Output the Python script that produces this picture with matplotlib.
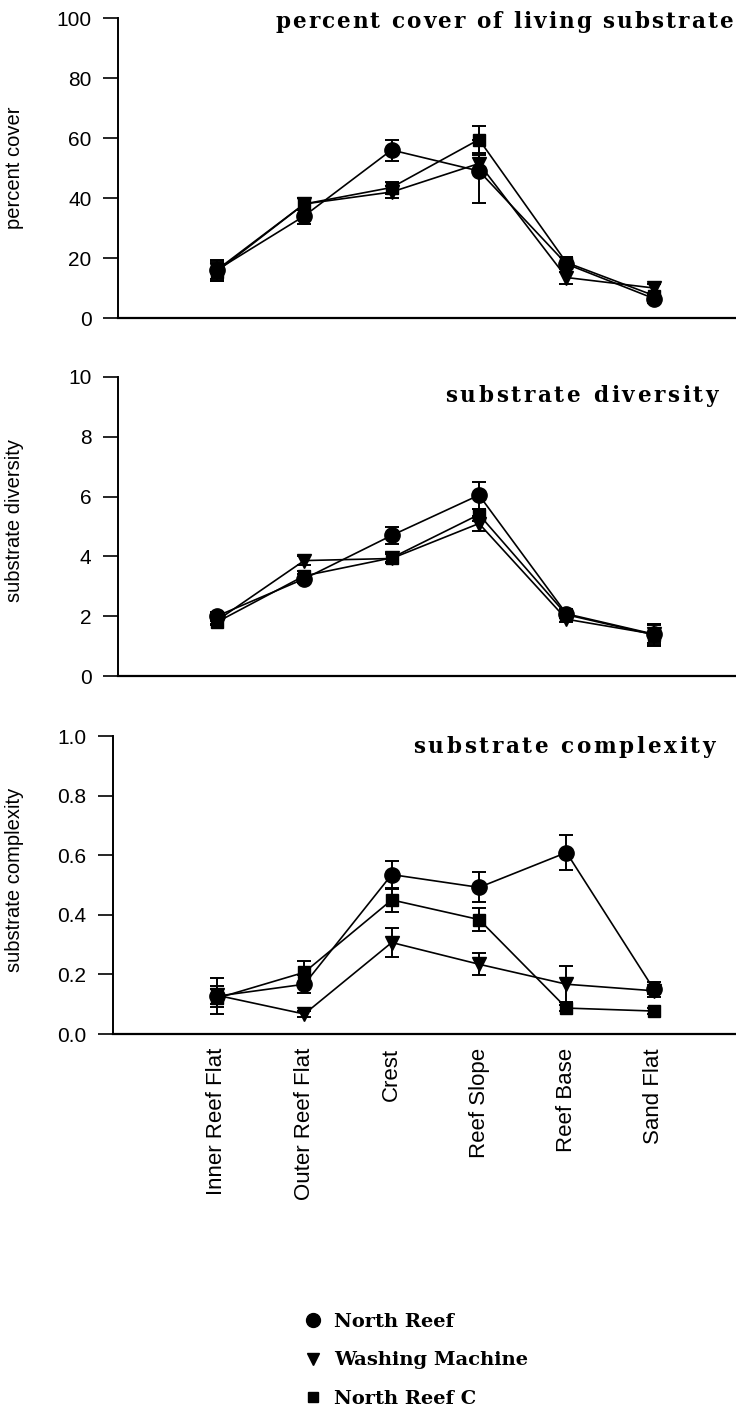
import numpy as np
import matplotlib
matplotlib.use('Agg')
import matplotlib.pyplot as plt
from matplotlib.lines import Line2D
from matplotlib.font_manager import FontProperties, findfont
from matplotlib.ft2font import FT2Font, LoadFlags

# Reef zones along the transect
zones = ['Inner Reef Flat', 'Outer Reef Flat', 'Crest', 'Reef Slope', 'Reef Base', 'Sand Flat']
sites = ['North Reef', 'Washing Machine', 'North Reef C']

# percent cover of living substrate (mean, error)
cover_nr = [16, 34, 56, 49, 18, 6.5]
cover_nr_err = [3.5, 2.5, 3.5, 10.5, 2.5, 1.5]
cover_wm = [16, 38, 42, 51.5, 13.5, 10]
cover_wm_err = [3, 2, 2, 3, 2, 1.5]
cover_nrc = [15.5, 38, 43.5, 59.5, 18.5, 7.5]
cover_nrc_err = [3, 2, 2, 4.5, 2, 1]

# substrate diversity
div_nr = [2.0, 3.25, 4.7, 6.05, 2.08, 1.4]
div_nr_err = [0.15, 0.15, 0.3, 0.45, 0.15, 0.35]
div_wm = [1.85, 3.86, 3.93, 5.1, 1.9, 1.4]
div_wm_err = [0.1, 0.15, 0.15, 0.25, 0.1, 0.3]
div_nrc = [1.8, 3.35, 3.95, 5.4, 2.05, 1.38]
div_nrc_err = [0.1, 0.15, 0.15, 0.2, 0.1, 0.37]

# substrate complexity
cx_nr = [0.127, 0.167, 0.535, 0.492, 0.609, 0.15]
cx_nr_err = [0.06, 0.03, 0.047, 0.05, 0.058, 0.025]
cx_wm = [0.13, 0.067, 0.307, 0.234, 0.167, 0.145]
cx_wm_err = [0.03, 0.01, 0.048, 0.037, 0.06, 0.01]
cx_nrc = [0.12, 0.207, 0.45, 0.384, 0.087, 0.077]
cx_nrc_err = [0.03, 0.037, 0.04, 0.038, 0.01, 0.01]

markers = ['o', 'v', 's']
msizes = [11, 10, 8.5]

sans = 'Liberation Sans'
serif = 'DejaVu Serif'

fig = plt.figure(figsize=(7.36, 14.16), dpi=100)
W, H = 736.0, 1416.0


def make_axes(left_px, top_px, bottom_px):
    return fig.add_axes([left_px / W, 1 - bottom_px / H, 1 - left_px / W, (bottom_px - top_px) / H])


def spaced_title(s, right_px, base_px, width_px, size=15.5):
    # letter-spaced heading, right aligned, spread over width_px
    fp = FontProperties(family=serif, weight='bold', size=size)
    font = FT2Font(findfont(fp), hinting_factor=1)
    font.set_size(size, 100)
    advs = [font.load_char(ord(c), flags=LoadFlags.NO_HINTING).linearHoriAdvance / 65536 for c in s]
    track = (width_px - sum(advs)) / (len(s) - 1)
    xpos = right_px - width_px
    for c, a in zip(s, advs):
        fig.text(xpos / W, 1 - base_px / H, c, fontproperties=fp, ha='left', va='baseline')
        xpos += a + track


ax1 = make_axes(118, 18, 318)
ax2 = make_axes(118, 377, 676)
ax3 = make_axes(113, 736, 1034)

x = np.arange(len(zones))

panels = [
    (ax1, [cover_nr, cover_wm, cover_nrc], [cover_nr_err, cover_wm_err, cover_nrc_err],
     (0, 100), [0, 20, 40, 60, 80, 100], ['0', '20', '40', '60', '80', '100'], -1.13),
    (ax2, [div_nr, div_wm, div_nrc], [div_nr_err, div_wm_err, div_nrc_err],
     (0, 10), [0, 2, 4, 6, 8, 10], ['0', '2', '4', '6', '8', '10'], -1.13),
    (ax3, [cx_nr, cx_wm, cx_nrc], [cx_nr_err, cx_wm_err, cx_nrc_err],
     (0, 1.0), [0, 0.2, 0.4, 0.6, 0.8, 1.0], ['0.0', '0.2', '0.4', '0.6', '0.8', '1.0'], -1.19),
]

for ax, series, errs, ylim, yt, ytl, xleft in panels:
    for vals, err, m, ms in zip(series, errs, markers, msizes):
        ax.errorbar(x, vals, yerr=err, color='black', marker=m, markersize=ms,
                    linewidth=1.2, elinewidth=1.4, capsize=5, capthick=1.4)
    ax.set_ylim(*ylim)
    ax.set_xlim(xleft, 5.94)
    ax.set_yticks(yt)
    ax.set_yticklabels(ytl, fontfamily=sans, fontsize=15)
    ax.tick_params(axis='y', direction='out', length=11, width=1.2, pad=8)
    ax.spines['top'].set_visible(False)
    ax.spines['right'].set_visible(False)
    ax.spines['left'].set_linewidth(1.4)
    ax.spines['bottom'].set_linewidth(1.6)
    ax.set_xticks([])

ax3.set_xticks(x)
ax3.set_xticklabels(zones, rotation=90, fontfamily=sans, fontsize=16, va='top')
ax3.tick_params(axis='x', length=0, pad=10)

# panel headings
spaced_title('percent cover of living substrate', 733, 28, 458)
spaced_title('substrate diversity', 718, 402, 273)
spaced_title('substrate complexity', 715, 753, 302)

# y axis labels
fig.text(15 / W, 1 - 168 / H, 'percent cover', rotation=90, ha='center', va='center',
         fontfamily=sans, fontsize=14.5)
fig.text(15 / W, 1 - 520 / H, 'substrate diversity', rotation=90, ha='center', va='center',
         fontfamily=sans, fontsize=14.5)
fig.text(15 / W, 1 - 880 / H, 'substrate complexity', rotation=90, ha='center', va='center',
         fontfamily=sans, fontsize=14.5)

handles = [Line2D([], [], color='black', marker=m, linestyle='none', markersize=s)
           for m, s in zip(markers, [10, 8, 7])]
fig.legend(handles, sites, loc='upper left', bbox_to_anchor=(303 / W, 1 - 1313 / H),
           frameon=False, prop={'family': serif, 'size': 14, 'weight': 'bold'}, handlelength=1.0,
           handletextpad=0.6, labelspacing=1.05, borderpad=0, borderaxespad=0)

fig.savefig('out.png', dpi=100, facecolor='white')
